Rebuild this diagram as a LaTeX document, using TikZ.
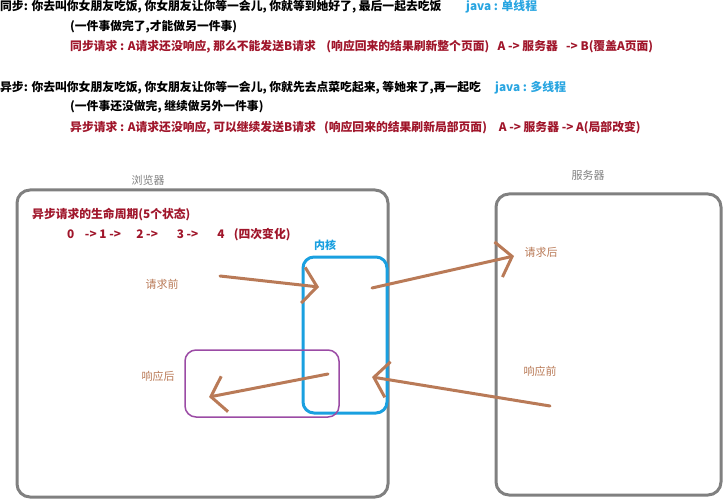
\documentclass[tikz,border=0pt]{standalone}
\usepackage{fontspec}
\setmainfont{Noto Sans CJK SC}
\usetikzlibrary{arrows.meta}
\definecolor{txtred}{RGB}{160,22,43}
\definecolor{javablue}{RGB}{40,165,225}
\definecolor{kernblue}{RGB}{26,160,224}
\definecolor{boxgray}{RGB}{128,128,128}
\definecolor{arrbrown}{RGB}{185,122,87}
\definecolor{purp}{RGB}{155,75,165}
\tikzset{
  line/.style={anchor=west, inner sep=0pt, font=\fontsize{11.8}{13}\selectfont\bfseries},
  redline/.style={line, text=txtred},
  javatxt/.style={line, text=javablue},
  graylabel/.style={inner sep=0pt, text=boxgray, font=\fontsize{11}{13}\selectfont},
  brownlabel/.style={inner sep=0pt, text=arrbrown, font=\fontsize{11}{13}\selectfont},
  bigbox/.style={draw=boxgray, line width=3pt, rounded corners=13pt},
  kernbox/.style={draw=kernblue, line width=3pt, rounded corners=11pt},
  purpbox/.style={draw=purp, line width=1.5pt, rounded corners=11pt},
  barrow/.style={draw=arrbrown, line width=3pt, line cap=round,
    -{Straight Barb[length=14pt,width=36pt,line width=3pt]}},
}
\begin{document}
\begin{tikzpicture}[x=1pt,y=-1pt]
\useasboundingbox (0,0) rectangle (726,500);
% top text
\node[line] (l1) at (0,7) {同步: 你去叫你女朋友吃饭, 你女朋友让你等一会儿, 你就等到她好了, 最后一起去吃饭};
\node[javatxt] (j1) at (466,7) {java : 单线程};
\node[line] (l2) at (70,27) {(一件事做完了,才能做另一件事)};
\node[redline] (l3) at (70,47) {同步请求 : A请求还没响应, 那么不能发送B请求\hspace{0.9em}(响应回来的结果刷新整个页面)\hspace{0.7em}A -> 服务器\hspace{0.7em}-> B(覆盖A页面)};
\node[line] (l4) at (0,88) {异步: 你去叫你女朋友吃饭, 你女朋友让你等一会儿, 你就先去点菜吃起来, 等她来了,再一起吃};
\node[javatxt] (j2) at (495,88) {java : 多线程};
\node[line] (l5) at (70,107) {(一件事还没做完, 继续做另外一件事)};
\node[redline] (l6) at (70,128) {异步请求 : A请求还没响应, 可以继续发送B请求\hspace{0.7em}(响应回来的结果刷新局部页面)\hspace{1em}A -> 服务器 -> A(局部改变)};
% boxes
\node[bigbox, minimum width=371pt, minimum height=307pt] (browser) at (202.5,343.5) {};
\node[bigbox, minimum width=225pt, minimum height=301pt] (server) at (608.5,344.5) {};
\node[graylabel] (browserlbl) at (148,180) {浏览器};
\node[graylabel] (serverlbl) at (588,175) {服务器};
\node[kernbox, minimum width=84pt, minimum height=156pt] (kernel) at (345,335) {};
\node[inner sep=0pt, text=kernblue, font=\fontsize{11}{13}\selectfont\bfseries] (kernlbl) at (325,245) {内核};
\node[purpbox, minimum width=154pt, minimum height=67pt] (resp) at (262,383.5) {};
% lifecycle text
\node[redline] (life) at (32,215) {异步请求的生命周期(5个状态)};
\node[redline] (states) at (67,235) {0\hspace{0.9em}-> 1 ->\hspace{1.3em}2 ->\hspace{1.6em}3 ->\hspace{1.6em}4\hspace{0.8em}(四次变化)};
% arrow labels
\node[brownlabel] (reqbefore) at (162,284) {请求前};
\node[brownlabel] (reqafter) at (541,252) {请求后};
\node[brownlabel] (respafter) at (158,376) {响应后};
\node[brownlabel] (respbefore) at (540,371) {响应前};
% arrow endpoints
\coordinate (a1s) at (220,276);
\coordinate (a1e) at (319,287);
\coordinate (a2s) at (372,288);
\coordinate (a2e) at (514,256);
\coordinate (a3s) at (550,406);
\coordinate (a3e) at (372,377);
\coordinate (a4s) at (328,374);
\coordinate (a4e) at (209,397);
\draw[barrow] (a1s) -- (a1e);
\draw[barrow] (a2s) -- (a2e);
\draw[barrow] (a3s) -- (a3e);
\draw[barrow] (a4s) -- (a4e);
\end{tikzpicture}
\end{document}
